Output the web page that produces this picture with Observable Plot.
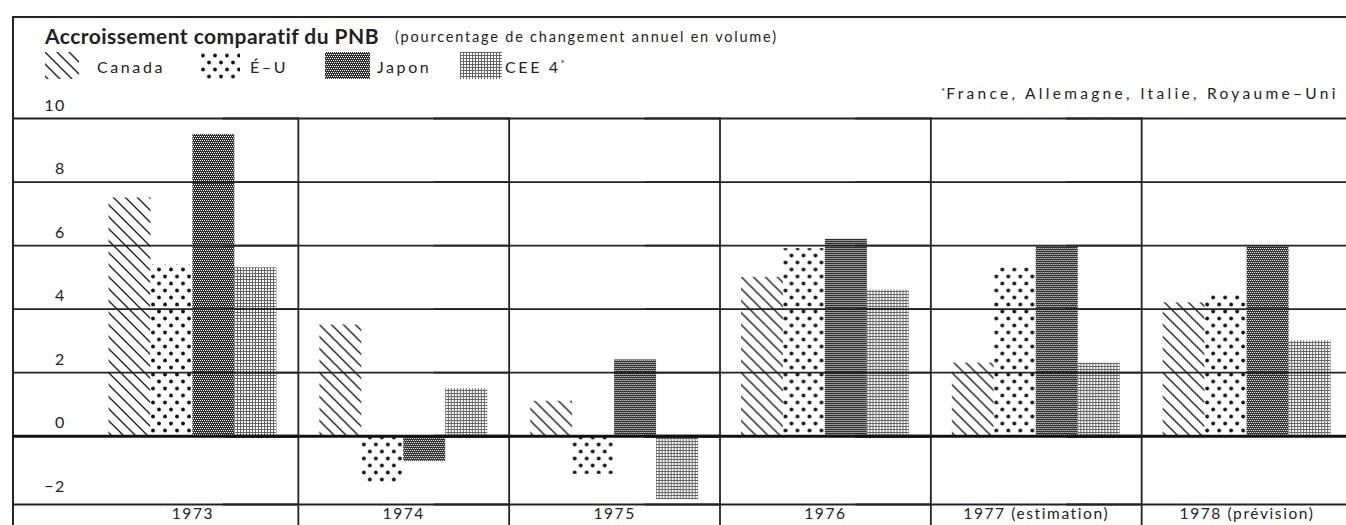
<!DOCTYPE html>
<html>
<head>
<meta charset="utf-8">
<script src="https://cdn.jsdelivr.net/npm/d3@7"></script>
<script src="https://cdn.jsdelivr.net/npm/@observablehq/plot@0.6"></script>
<style>
  html, body { margin: 0; padding: 0; background: #fff; overflow: hidden; }
  #wrap { position: relative; width: 1346px; height: 525px; overflow: hidden; background: #fff; font-family: Lato, sans-serif; color: #222; }
  #frame { position: absolute; left: 12px; top: 16px; width: 1400px; height: 600px; border-top: 2px solid #222; border-left: 2px solid #222; }
  #chart { position: absolute; left: 0; top: 0; width: 1352px; height: 525px; }
  #chart svg { max-width: none !important; }
  #chart g[aria-label="fx-axis tick label"] { letter-spacing: 1.6px; }
  .abs { position: absolute; white-space: nowrap; line-height: 1; }
  #title { left: 45px; top: 25px; font-size: 21px; font-weight: bold; letter-spacing: 0.45px; }
  #subtitle { left: 395px; top: 30px; font-size: 14.5px; letter-spacing: 1.8px; }
  #note { left: 941px; top: 86px; font-size: 15.5px; letter-spacing: 3.3px; }
  .lg-text { top: 59px; font-size: 16px; letter-spacing: 2.6px; }
  .lg-text sup { font-size: 10px; vertical-align: top; position: relative; top: -1px; letter-spacing: 0; }
  .lg-sw { top: 52px; }
  #note sup { font-size: 10px; vertical-align: top; letter-spacing: 1px; }
</style>
</head>
<body>
<svg width="0" height="0" style="position:absolute">
  <defs>
    <pattern id="p-canada" patternUnits="userSpaceOnUse" width="12" height="12">
      <rect width="12" height="12" fill="#fff"/>
      <path d="M-3,-3L15,15M-3,9L3,15M9,-3L15,3" stroke="#222" stroke-width="1.4"/>
    </pattern>
    <pattern id="p-eu" patternUnits="userSpaceOnUse" width="12" height="14">
      <rect width="12" height="14" fill="#fff"/>
      <circle cx="3" cy="3.5" r="1.9" fill="#111"/>
      <circle cx="9" cy="10.5" r="1.9" fill="#111"/>
    </pattern>
    <pattern id="p-japon" patternUnits="userSpaceOnUse" width="4" height="4">
      <rect width="4" height="4" fill="#303030"/>
      <rect x="0" y="0" width="1" height="1" fill="#fff"/>
      <rect x="2" y="0" width="1" height="1" fill="#fff"/>
      <rect x="1" y="2" width="1" height="1" fill="#fff"/>
      <rect x="3" y="2" width="1" height="1" fill="#fff"/>
    </pattern>
    <pattern id="p-cee" patternUnits="userSpaceOnUse" width="3" height="3">
      <rect width="3" height="3" fill="#fff"/>
      <rect x="0" y="0" width="1" height="3" fill="#666"/>
      <rect x="0" y="0" width="3" height="1" fill="#666"/>
    </pattern>
  </defs>
</svg>
<div id="wrap">
  <div id="frame"></div>
  <div id="chart"></div>
  <div id="title" class="abs">Accroissement comparatif du PNB</div>
  <div id="subtitle" class="abs">(pourcentage de changement annuel en volume)</div>
  <div id="legend"></div>
  <div id="note" class="abs"><sup>*</sup>France, Allemagne, Italie, Royaume–Uni</div>
</div>
<script>
// ---- data ----
const years = ["1973", "1974", "1975", "1976", "1977 (estimation)", "1978 (prévision)"];
const series = ["Canada", "É–U", "Japon", "CEE 4*"];
const canada = [7.5, 3.5, 1.1, 5.0, 2.3, 4.2];
const eu     = [5.4, -1.5, -1.2, 5.9, 5.3, 4.5];
const japon  = [9.5, -0.8, 2.4, 6.2, 6.0, 6.0];
const cee    = [5.3, 1.5, -2.0, 4.6, 2.3, 3.0];
const yTicks = [-2, 0, 2, 4, 6, 8, 10];
const yDomain = [-2.15, 10];

// ---- styles ----
const patterns = ["url(#p-canada)", "url(#p-eu)", "url(#p-japon)", "url(#p-cee)"];
const swatchX = [45, 200, 325, 460];
const swatchW = [34, 40, 45, 42];
const textX = [97, 250, 377, 505];

const values = [canada, eu, japon, cee];
const rows = years.flatMap((yr, i) => series.map((s, j) => ({year: yr, series: s, value: values[j][i]})));

const marginLeft = 87, marginBottom = 21;

const chart = Plot.plot({
  width: 1352,
  height: 525,
  marginTop: 118,
  marginBottom,
  marginLeft,
  marginRight: 0,
  style: {fontFamily: "Lato, sans-serif", fontSize: "16px", color: "#222", background: "transparent", letterSpacing: "1.3px", maxWidth: "none"},
  fx: {domain: years, padding: 0, round: false, label: null},
  x: {domain: series, paddingInner: 0, paddingOuter: 0.512, align: 0.5, round: false, axis: null},
  y: {domain: yDomain, axis: null},
  color: {type: "ordinal", domain: series, range: patterns, legend: false},
  marks: [
    Plot.barY(rows, {fx: "year", x: "series", y: "value", fill: "series"}),
    Plot.ruleY(yTicks.filter(d => d > 0), {stroke: "#222", strokeWidth: 1.8, insetLeft: -(marginLeft - 12)}),
    Plot.ruleY([yDomain[0]], {stroke: "#222", strokeWidth: 1.8, insetLeft: -(marginLeft - 12)}),
    Plot.ruleY([0], {stroke: "#111", strokeWidth: 3, insetLeft: -(marginLeft - 12)}),
    Plot.frame({anchor: "right", stroke: "#222", strokeWidth: 1.8, insetBottom: -marginBottom}),
    Plot.axisY(yTicks, {anchor: "left", tickSize: 0, tickPadding: 22, dy: -13, label: null, fontSize: 16}),
    Plot.axisFx({anchor: "bottom", tickSize: 0, tickPadding: 3, label: null, fontSize: 15.5})
  ]
});
document.getElementById("chart").appendChild(chart);

// ---- legend (HTML + inline svg swatches using same patterns) ----
const lg = document.getElementById("legend");
series.forEach((lab, i) => {
  const sw = document.createElementNS("http://www.w3.org/2000/svg", "svg");
  sw.setAttribute("width", swatchW[i]);
  sw.setAttribute("height", 27);
  sw.setAttribute("class", "abs lg-sw");
  sw.style.left = swatchX[i] + "px";
  const r = document.createElementNS("http://www.w3.org/2000/svg", "rect");
  r.setAttribute("width", swatchW[i]);
  r.setAttribute("height", 27);
  r.setAttribute("fill", patterns[i]);
  sw.appendChild(r);
  lg.appendChild(sw);
  const t = document.createElement("div");
  t.className = "abs lg-text";
  t.style.left = textX[i] + "px";
  if (lab.endsWith("*")) {
    t.appendChild(document.createTextNode(lab.slice(0, -1)));
    const s = document.createElement("sup");
    s.textContent = "*";
    t.appendChild(s);
  } else {
    t.textContent = lab;
  }
  lg.appendChild(t);
});
</script>
</body>
</html>
